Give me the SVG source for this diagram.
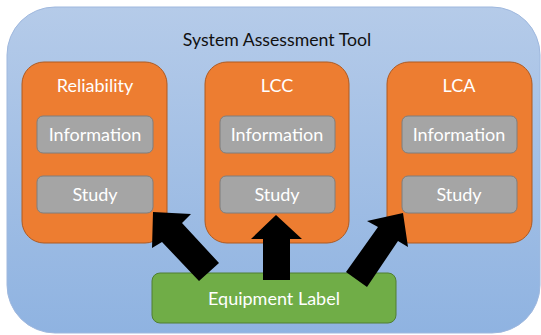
<svg xmlns="http://www.w3.org/2000/svg" width="541" height="335" viewBox="0 0 541 335">
<defs>
<linearGradient id="bg" x1="0" y1="0" x2="0" y2="1">
<stop offset="0" stop-color="#b5cbe9"/>
<stop offset="1" stop-color="#8fb3e1"/>
</linearGradient>
</defs>
<style>
.t{font-family:Lato,"Liberation Sans",sans-serif;text-anchor:middle}
.w{fill:#fff;font-size:18px}
.org{fill:#ed7d31;stroke:#ae5a21;stroke-width:1}
.gry{fill:#a5a5a5;stroke:#7f7f7f;stroke-width:1}
.arr{fill:#000}
</style>
<rect width="541" height="335" fill="#fff"/>
<g id="tool">
<rect x="7" y="7" width="533" height="326" rx="48" fill="url(#bg)" stroke="#9fb8de" stroke-width="1"/>
<text class="t" x="277" y="46" font-size="17.7" fill="#111">System Assessment Tool</text>
</g>
<g id="reliability">
<rect class="org" x="22" y="62" width="145" height="181" rx="22"/>
<text class="t w" x="95" y="92">Reliability</text>
</g>
<g id="rel-info"><rect class="gry" x="37" y="116" width="116" height="37" rx="6"/><text class="t w" x="95" y="141">Information</text></g>
<g id="rel-study"><rect class="gry" x="37" y="176" width="116" height="37" rx="6"/><text class="t w" x="95" y="201">Study</text></g>
<g id="lcc">
<rect class="org" x="205" y="62" width="144" height="181" rx="22"/>
<text class="t w" x="277" y="92">LCC</text>
</g>
<g id="lcc-info"><rect class="gry" x="220" y="116" width="115" height="37" rx="6"/><text class="t w" x="277" y="141">Information</text></g>
<g id="lcc-study"><rect class="gry" x="220" y="176" width="115" height="37" rx="6"/><text class="t w" x="277" y="201">Study</text></g>
<g id="lca">
<rect class="org" x="387" y="62" width="145" height="181" rx="22"/>
<text class="t w" x="459" y="92">LCA</text>
</g>
<g id="lca-info"><rect class="gry" x="402" y="116" width="115" height="37" rx="6"/><text class="t w" x="459" y="141">Information</text></g>
<g id="lca-study"><rect class="gry" x="402" y="176" width="115" height="37" rx="6"/><text class="t w" x="459" y="201">Study</text></g>
<g id="equipment">
<rect x="152" y="273" width="244" height="50" rx="8" fill="#70ad47" stroke="#507e32" stroke-width="1"/>
<text class="t w" x="274" y="305">Equipment Label</text>
</g>
<g id="connectors">
<polygon class="arr" points="153,212 191,214 182,223 219,263 199,281 162,242 152,248"/>
<polygon class="arr" points="276,215 302,239 290,239 290,280 263,280 263,239 251,239"/>
<polygon class="arr" points="403,213 408,247 398,241 367,287 346,272 378,227 367,221"/>
</g>
</svg>
